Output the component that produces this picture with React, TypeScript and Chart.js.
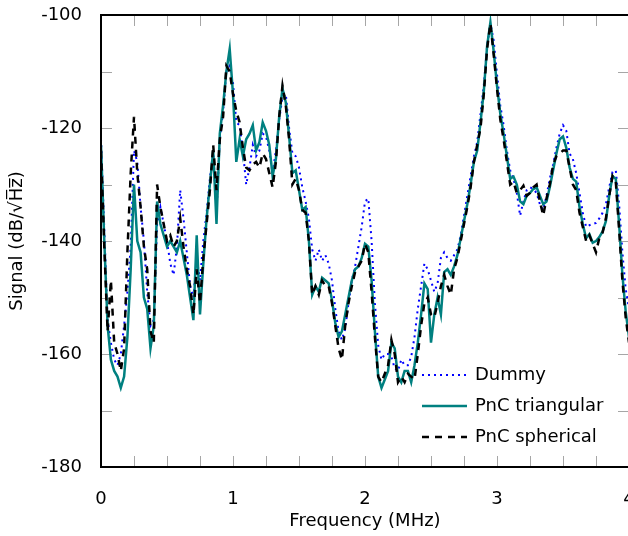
import { useEffect, useRef } from 'react';
import { Chart, registerables } from 'chart.js';

Chart.register(...registerables);

const F_STEP = 0.025; // MHz between samples

const DUMMY = [
  -122, -138, -154, -158, -161, -162, -160, -155, -149, -141,
  -124, -126, -134, -140, -149, -155, -154, -137, -134, -137,
  -140, -144, -146, -141, -131, -136, -142, -148, -150, -143,
  -147, -140, -135, -129, -124, -135, -122, -117, -110, -109,
  -112, -119, -119.5, -124, -130, -127, -123, -125, -124, -121,
  -121.5, -124, -128, -124, -118.5, -114.5, -114, -120, -124.5, -125,
  -127, -130.5, -133, -136, -141.5, -143.5, -141.5, -143.5, -142.5, -144,
  -147, -152, -156, -157.5, -155.5, -151, -147, -144.5, -141, -137.5,
  -133, -132.5, -140, -151, -158.5, -161, -160, -160, -160.5, -162.5,
  -163, -161, -162, -162, -160.5, -157, -152, -148, -144, -145,
  -147, -149, -147.5, -143, -142, -143, -143.5, -142.5, -141.5, -139,
  -135.5, -132, -128.5, -125, -122.5, -117.5, -112.5, -105.5, -101.5, -104.5,
  -110.5, -116, -119.5, -124, -127.5, -129, -131.5, -135.5, -133, -131,
  -130.5, -130.8, -131.5, -133.5, -134.5, -132, -129, -126.5, -123.5, -121,
  -119.5, -120.5, -124.5, -125.5, -128, -131.5, -135, -137.5, -137.2, -137,
  -136.8, -136, -135, -133.5, -130.5, -127.8, -127.5, -133.5, -142, -148.5,
  -152,
];

const PNC_TRIANGULAR = [
  -123, -140, -155, -161, -163, -164, -166, -164, -157, -145,
  -130, -140, -142, -150, -152, -159, -155, -133, -137, -139,
  -141, -140, -141, -142, -140, -143, -146, -150, -154, -139,
  -153, -144, -136, -130, -124, -137, -121, -116, -110, -106,
  -114, -126, -122, -125, -122, -121, -119.5, -124, -122.5, -119,
  -120.5, -123, -128.5, -125.5, -118, -113, -115.5, -121.5, -128, -127.5,
  -131, -134.5, -134, -140, -149.5, -148, -149, -146.5, -147, -147.5,
  -150.5, -154.5, -157, -156, -153, -150, -147, -145, -144.5, -143,
  -140.5, -141, -147, -156, -164, -166, -164.5, -163, -158, -159,
  -164, -165, -163, -163, -165, -162, -158, -153, -147.5, -148.5,
  -158, -153, -150, -153, -145.5, -145, -146, -144.5, -142.5, -139.5,
  -136.5, -133.5, -130, -126, -124, -119, -113.5, -105.5, -101.3, -106.5,
  -112.5, -117.5, -121, -125, -129, -128.6, -130, -133, -133.5, -132,
  -131.5, -130.8, -130.5, -132, -133.5, -133, -130.5, -127.5, -124.5, -122,
  -121.5, -123.5, -127, -129, -129.5, -134, -137, -139.5, -138.8, -140.3,
  -140, -139.3, -138.3, -136.5, -132, -128.5, -129, -137, -146, -152.5,
  -157,
];

const PNC_SPHERICAL = [
  -124, -141, -156, -147, -158, -160, -163, -159, -142, -128,
  -118, -128, -134, -141, -145, -156, -158, -130, -134, -137,
  -140, -139, -141, -140, -136, -141, -145, -148, -153, -145,
  -151, -143, -137, -131, -123, -131, -122, -118, -109, -110,
  -114, -117, -119, -123.5, -127, -127.5, -126.5, -126, -127, -124.5,
  -125.5, -128, -130.5, -126, -118, -112.5, -116, -122, -130, -129,
  -131, -134.5, -135, -140, -149.5, -148, -149.5, -147, -148, -148,
  -151, -155, -159, -161, -155, -151, -148, -145.5, -144.5, -143.5,
  -140.5, -142, -149, -157, -164, -165, -163.5, -162, -157.5, -160,
  -165, -164, -165, -163.5, -164, -164.5, -160, -155, -151, -150,
  -153, -153.5, -151, -148, -146, -148, -149.5, -145, -143, -140,
  -137, -134, -130.5, -126, -123, -120, -114, -106, -101.5, -107,
  -113, -118.5, -122, -126, -130, -129.5, -131.5, -131, -130.2, -132,
  -131.5, -130.5, -130, -133, -135.5, -132.5, -130, -126.5, -125, -124.5,
  -124, -124, -127, -130, -131, -135, -137.5, -140, -139, -140.5,
  -142, -139.5, -138.5, -136, -132, -128.5, -129.5, -138, -147, -153.5,
  -158,
];

const FREQ = DUMMY.map((_, i) => +(i * F_STEP).toFixed(3));

const SERIES_LABELS = ['Dummy', 'PnC triangular', 'PnC spherical'];
const X_RANGE = [0, 4];
const Y_RANGE = [-180, -100];
const X_MAJOR = 1;
const Y_MAJOR = 20;
const X_MINOR = 0.25;
const Y_MINOR = 10;

const FONT = { family: '"DejaVu Sans", Verdana, sans-serif', size: 18 };

const frameTicks = {
  id: 'frameTicks',
  beforeDatasetsDraw(chart: any) {
    const { ctx, chartArea: a, scales } = chart;
    const x = scales.x;
    const y = scales.y;
    ctx.save();
    ctx.strokeStyle = '#a6a6a6';
    ctx.lineWidth = 1;
    ctx.beginPath();
    for (let v = X_RANGE[0]; v <= X_RANGE[1] + 1e-9; v += X_MINOR) {
      const px = Math.round(x.getPixelForValue(v)) + 0.5;
      ctx.moveTo(px, a.bottom);
      ctx.lineTo(px, a.bottom - 11);
      ctx.moveTo(px, a.top);
      ctx.lineTo(px, a.top + 11);
    }
    for (let v = Y_RANGE[0]; v <= Y_RANGE[1] + 1e-9; v += Y_MINOR) {
      const py = Math.round(y.getPixelForValue(v)) + 0.5;
      ctx.moveTo(a.left, py);
      ctx.lineTo(a.left + 11, py);
      ctx.moveTo(a.right, py);
      ctx.lineTo(a.right - 11, py);
    }
    ctx.stroke();
    ctx.restore();
  },
  afterDatasetsDraw(chart: any) {
    const { ctx, chartArea: a } = chart;
    ctx.save();
    ctx.strokeStyle = '#000';
    ctx.lineWidth = 2;
    ctx.strokeRect(a.left, a.top, a.right - a.left, a.bottom - a.top);
    ctx.restore();
  },
};

const insideLegend = {
  id: 'insideLegend',
  afterDraw(chart: any) {
    const { ctx, chartArea: a } = chart;
    const x0 = a.right - 207;
    const x1 = x0 + 45;
    const tx = x1 + 8;
    const rows = [a.bottom - 92, a.bottom - 61, a.bottom - 30];
    chart.data.datasets.forEach((ds: any, i: number) => {
      ctx.save();
      ctx.strokeStyle = ds.borderColor;
      ctx.lineWidth = ds.borderWidth;
      ctx.setLineDash(ds.borderDash || []);
      ctx.beginPath();
      ctx.moveTo(x0, rows[i]);
      ctx.lineTo(x1, rows[i]);
      ctx.stroke();
      ctx.setLineDash([]);
      ctx.fillStyle = '#000';
      ctx.font = `${FONT.size}px ${FONT.family}`;
      ctx.textBaseline = 'middle';
      ctx.textAlign = 'left';
      ctx.fillText(ds.label, tx, rows[i]);
      ctx.restore();
    });
  },
};

export default function App() {
  const ref = useRef<HTMLCanvasElement | null>(null);

  useEffect(() => {
    if (!ref.current) return;
    const toPts = (arr: number[]) => arr.map((v, i) => ({ x: FREQ[i], y: v }));
    const chart = new Chart(ref.current, {
      type: 'line',
      data: {
        datasets: [
          {
            label: SERIES_LABELS[0],
            data: toPts(DUMMY),
            borderColor: '#0000ff',
            borderWidth: 2,
            borderDash: [2, 4],
            pointRadius: 0,
            tension: 0,
            order: 2,
          },
          {
            label: SERIES_LABELS[1],
            data: toPts(PNC_TRIANGULAR),
            borderColor: '#008080',
            borderWidth: 2.5,
            pointRadius: 0,
            tension: 0,
            order: 1,
          },
          {
            label: SERIES_LABELS[2],
            data: toPts(PNC_SPHERICAL),
            borderColor: '#000000',
            borderWidth: 2.5,
            borderDash: [7, 6],
            pointRadius: 0,
            tension: 0,
            order: 0,
          },
        ],
      },
      options: {
        responsive: false,
        animation: false,
        events: [],
        layout: { padding: { top: 15, right: 11, left: 0, bottom: 0 } },
        plugins: { legend: { display: false }, tooltip: { enabled: false } },
        scales: {
          x: {
            type: 'linear',
            min: X_RANGE[0],
            max: X_RANGE[1],
            ticks: { stepSize: X_MAJOR, font: FONT, color: '#000', padding: 14, maxRotation: 0 },
            grid: { display: false },
            border: { display: false },
            title: { display: true, text: 'Frequency (MHz)', font: FONT, color: '#000', padding: { top: 0, bottom: 4 } },
            afterFit: (s: any) => { s.height = 69; s.paddingLeft = 0; s.paddingRight = 0; },
          },
          y: {
            type: 'linear',
            min: Y_RANGE[0],
            max: Y_RANGE[1],
            ticks: { stepSize: Y_MAJOR, font: FONT, color: '#000', padding: 11 },
            grid: { display: false },
            border: { display: false },
            title: { display: true, text: 'Signal (dB/\u221AH\u0305z\u0305)', font: FONT, color: '#000', padding: { top: 7, bottom: 0 } },
            afterFit: (s: any) => { s.width = 101; s.paddingTop = 0; s.paddingBottom = 0; },
          },
        },
      },
      plugins: [frameTicks, insideLegend],
    } as any);
    return () => chart.destroy();
  }, []);

  return (
    <div style={{ position: 'fixed', left: 0, top: 0, width: 628, height: 536, overflow: 'hidden', background: '#fff' }}>
      <canvas ref={ref} width={640} height={536} style={{ display: 'block' }} />
    </div>
  );
}
